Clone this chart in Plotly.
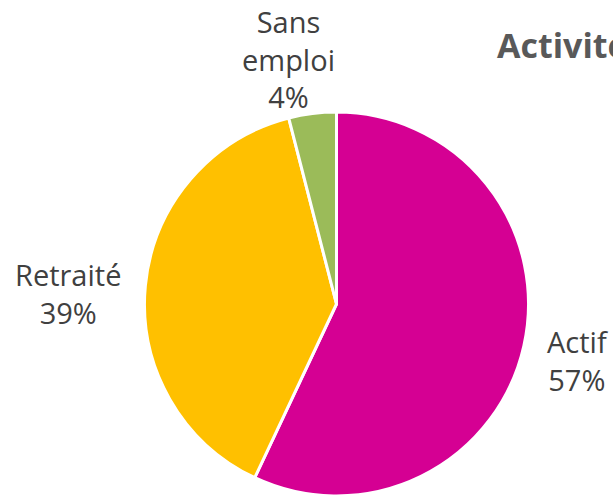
import math
import plotly.graph_objects as go

categories = ["Actif", "Retraité", "Sans emploi"]
display_labels = ["Actif", "Retraité", "Sans<br>emploi"]
values = [57, 39, 4]
colors = ["#D50093", "#FFC000", "#9BBB59"]

W, H = 613, 496
CX, CY, R = 336.5, 304.0, 192.0   # pie centre / radius in px
GAP = 22

y0 = max(0.0, (H - CY - R) / H)
y1 = min(1.0, (H - CY + R) / H)

fig = go.Figure(go.Pie(
    labels=categories,
    values=values,
    sort=False,
    direction="clockwise",
    rotation=0,
    marker=dict(colors=colors, line=dict(color="white", width=3)),
    textinfo="none",
    hoverinfo="label+percent",
    showlegend=False,
    domain=dict(x=[(CX - R) / W, (CX + R) / W], y=[y0, y1]),
))

total = sum(values)
cum = 0
annotations = []
for lab, v in zip(display_labels, values):
    mid = (cum + v / 2) / total * 2 * math.pi
    cum += v
    dx, dy = math.sin(mid), -math.cos(mid)
    if abs(dy) > 0.9:
        gap, xa, ya, xs, ys = 6, "center", "bottom", -23, -10
    else:
        gap, xa, ya, xs, ys = GAP, ("left" if dx > 0 else "right"), "middle", 0, -10
    px = CX + dx * (R + gap)
    py = CY + dy * (R + gap)
    pct = round(v / total * 100)
    annotations.append(dict(
        x=px / W, y=1 - py / H, xref="paper", yref="paper",
        text=f"{lab}<br>{pct}%", showarrow=False,
        xanchor=xa, yanchor=ya, xshift=xs, yshift=ys, align="center",
        font=dict(family="Open Sans", size=29, color="#404040"),
    ))

fig.update_layout(
    width=W, height=H,
    margin=dict(l=0, r=0, t=0, b=0),
    paper_bgcolor="white", plot_bgcolor="white",
    title=dict(
        text="<b>Activité</b>", x=497 / W, xanchor="left",
        y=1 - 46 / H, yanchor="middle", xref="paper", yref="paper",
        font=dict(family="Open Sans", size=34, color="#595959"),
    ),
    annotations=annotations,
)

fig.write_html(
    "out.html",
    config={"displayModeBar": False},
    post_script="document.body.style.margin='0';document.body.style.overflow='hidden';",
)
